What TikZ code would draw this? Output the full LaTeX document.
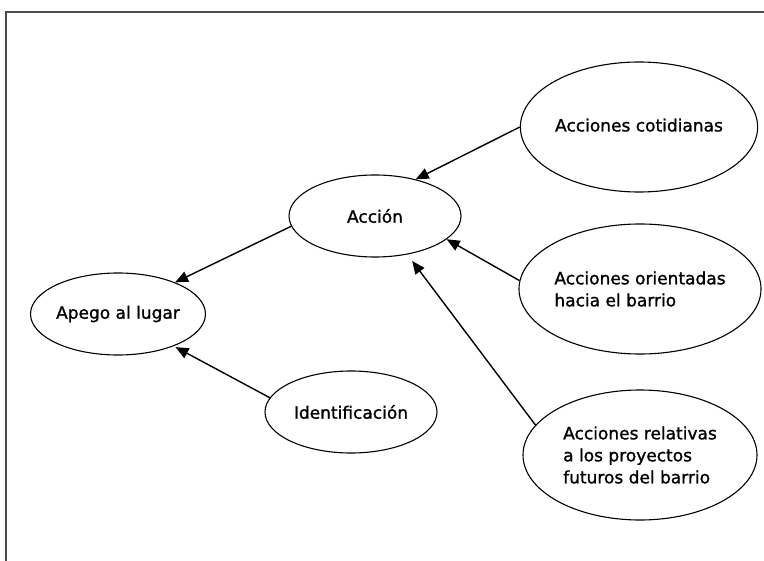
\documentclass[tikz,border=0pt]{standalone}
\usepackage{fontspec}
\setmainfont{DejaVu Sans}[FakeBold=1.2]
\usetikzlibrary{shapes.geometric,arrows.meta}
\begin{document}
\begin{tikzpicture}[x=1bp,y=-1bp,
  oval/.style={ellipse,draw,line width=1.1bp,inner sep=0pt,align=left,
    font=\fontsize{17bp}{22bp}\selectfont},
  big/.style={oval,minimum width=234bp,minimum height=130bp},
  small/.style={oval,minimum width=172bp,minimum height=82bp},
  conn/.style={line width=1.4bp,-{Triangle[length=13bp,width=11bp]}},
  frame/.style={line width=1.4bp,black!70}]
\useasboundingbox (0,0) rectangle (764,561);
\draw[frame] (6,561) -- (6,12) -- (764,12);
\node[big] (cot) at (639,127) {\raisebox{4bp}{Acciones cotidianas}};
\node[big] (ori) at (640,289) {Acciones orientadas\\hacia el barrio};
\node[big] (rel) at (640,455) {Acciones relativas\\a los proyectos\\futuros del barrio};
\node[small] (acc) at (375,216) {Acción};
\node[small] (ape) at (118,314) {Apego al lugar};
\node[small] (ide) at (351,412) {Identificación};
\draw[conn] (cot.180) -- (acc.42);
\draw[conn] (ori.176) -- (acc.-18);
\draw[conn,shorten >=8bp] (rel.164) -- (acc.-50);
\draw[conn] (acc.187) -- (ape.29);
\draw[conn,shorten >=2bp] (ide.170) -- (ape.-30);
\end{tikzpicture}
\end{document}
